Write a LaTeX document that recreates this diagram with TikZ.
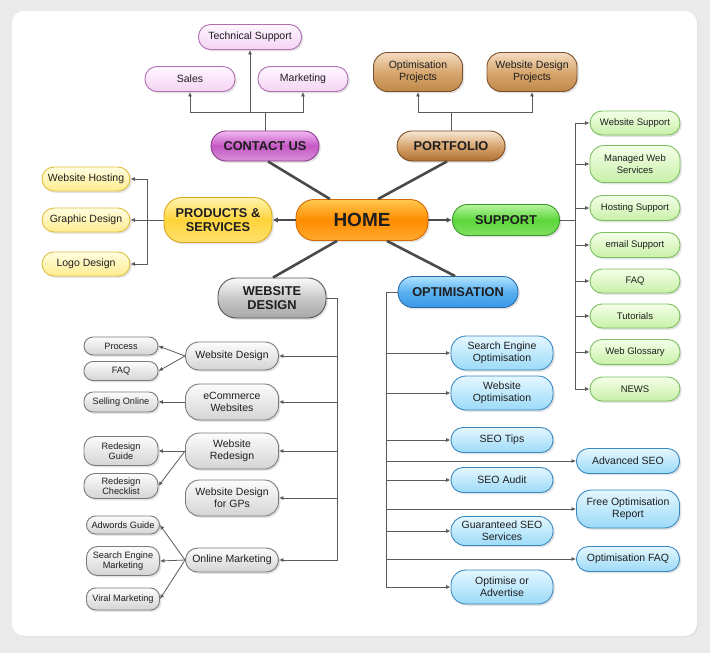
\documentclass[tikz,border=0pt]{standalone}
\usepackage{fontspec}
\setmainfont{Liberation Sans}
\usetikzlibrary{shadows,arrows.meta,calc}
\definecolor{bgc}{HTML}{EAEAEA}
\definecolor{txt}{HTML}{1E1E1E}
\definecolor{linec}{HTML}{5A5A5A}
\definecolor{hubc}{HTML}{4A4A4A}
\begin{document}
\begin{tikzpicture}[x=1pt,y=-1pt,
  base/.style={draw, rectangle, inner sep=1pt, align=center, text=txt, line width=0.9pt,
    drop shadow={opacity=0.22, shadow xshift=1.8pt, shadow yshift=-1.8pt}},
  mainnode/.style={base, font=\fontsize{12.8}{14}\selectfont\bfseries, rounded corners=15},
  kidnode/.style={base, font=\fontsize{10.5}{12}\selectfont, rounded corners=12},
  grnnode/.style={base, font=\fontsize{9.5}{11.5}\selectfont, rounded corners=12},
  gknode/.style={base, font=\fontsize{9.2}{10.5}\selectfont, rounded corners=9},
  sz/.style 2 args={minimum width=#1, minimum height=#2},
  homec/.style={top color={rgb,255:red,255;green,200;blue,80}, bottom color={rgb,255:red,255;green,170;blue,48}, middle color={rgb,255:red,255;green,140;blue,0}, draw={rgb,255:red,214;green,106;blue,0}},
  suppc/.style={top color={rgb,255:red,184;green,245;blue,160}, bottom color={rgb,255:red,128;green,224;blue,96}, middle color={rgb,255:red,92;green,214;blue,60}, draw={rgb,255:red,58;green,154;blue,40}},
  prodc/.style={top color={rgb,255:red,255;green,245;blue,176}, bottom color={rgb,255:red,255;green,224;blue,112}, middle color={rgb,255:red,255;green,212;blue,58}, draw={rgb,255:red,217;green,165;blue,32}},
  contc/.style={top color={rgb,255:red,242;green,184;blue,242}, bottom color={rgb,255:red,216;green,144;blue,216}, middle color={rgb,255:red,196;green,88;blue,196}, draw={rgb,255:red,138;green,58;blue,138}},
  portc/.style={top color={rgb,255:red,248;green,232;blue,212}, bottom color={rgb,255:red,176;green,112;blue,48}, middle color={rgb,255:red,216;green,166;blue,112}, draw={rgb,255:red,122;green,74;blue,32}},
  wdc/.style={top color={rgb,255:red,250;green,250;blue,250}, bottom color={rgb,255:red,168;green,168;blue,168}, middle color={rgb,255:red,200;green,200;blue,200}, draw={rgb,255:red,85;green,85;blue,85}},
  optc/.style={top color={rgb,255:red,176;green,228;blue,255}, bottom color={rgb,255:red,58;green,152;blue,232}, middle color={rgb,255:red,88;green,176;blue,240}, draw={rgb,255:red,42;green,106;blue,170}},
  pinkk/.style={top color={rgb,255:red,255;green,246;blue,255}, bottom color={rgb,255:red,244;green,212;blue,244}, draw={rgb,255:red,176;green,112;blue,176}},
  tank/.style={top color={rgb,255:red,244;green,220;blue,192}, bottom color={rgb,255:red,192;green,136;blue,72}, middle color={rgb,255:red,216;green,168;blue,112}, draw={rgb,255:red,122;green,80;blue,48}},
  yelk/.style={top color={rgb,255:red,255;green,253;blue,224}, bottom color={rgb,255:red,255;green,236;blue,144}, draw={rgb,255:red,224;green,192;blue,64}},
  grnk/.style={top color={rgb,255:red,244;green,255;blue,232}, bottom color={rgb,255:red,200;green,240;blue,168}, draw={rgb,255:red,124;green,192;blue,96}},
  gryk/.style={top color={rgb,255:red,252;green,252;blue,252}, bottom color={rgb,255:red,212;green,212;blue,212}, draw={rgb,255:red,122;green,122;blue,122}},
  bluk/.style={top color={rgb,255:red,228;green,247;blue,255}, bottom color={rgb,255:red,156;green,218;blue,248}, draw={rgb,255:red,58;green,136;blue,192}},
  conn/.style={draw=linec, line width=0.8pt},
  arr/.style={conn, -{Latex[length=4.5pt,width=4pt]}},
  hub/.style={draw=hubc, line width=2.6pt},
  hubarr/.style={draw=hubc, line width=1.8pt, -{Latex[length=5.5pt,width=5.5pt]}}
]
\useasboundingbox (0,0) rectangle (710,653);
\fill[bgc] (0,0) rectangle (710,653);
\fill[white, rounded corners=12, drop shadow={opacity=0.12, shadow xshift=1pt, shadow yshift=-1pt}] (12,11) rectangle (697,636);

% main nodes
\node[mainnode, homec, sz={132}{41}, rounded corners=18, font=\fontsize{19}{21}\selectfont\bfseries] (home) at (362,220) {HOME};
\node[mainnode, suppc, sz={107}{31}] (support) at (506,220) {SUPPORT};
\node[mainnode, prodc, sz={108}{45}, rounded corners=18] (products) at (218,220) {PRODUCTS \&\\SERVICES};
\node[mainnode, contc, sz={108}{30}] (contact) at (265,146) {CONTACT US};
\node[mainnode, portc, sz={108}{30}] (portfolio) at (451,146) {PORTFOLIO};
\node[mainnode, wdc, sz={108}{40}, rounded corners=18] (wdesign) at (272,298) {WEBSITE\\DESIGN};
\node[mainnode, optc, sz={120}{31}] (optim) at (458,292) {OPTIMISATION};

% contact kids
\node[kidnode, pinkk, sz={103}{25}] (techsup) at (250,37) {Technical Support};
\node[kidnode, pinkk, sz={90}{25}] (sales) at (190,79) {Sales};
\node[kidnode, pinkk, sz={90}{25}] (marketing) at (303,79) {Marketing};
% portfolio kids
\node[kidnode, tank, sz={89}{39}, rounded corners=14] (optproj) at (418,72) {Optimisation\\Projects};
\node[kidnode, tank, sz={90}{39}, rounded corners=14] (wdproj) at (532,72) {Website Design\\Projects};
% products kids
\node[kidnode, yelk, sz={88}{24}] (whost) at (86,179) {Website Hosting};
\node[kidnode, yelk, sz={88}{24}] (gdesign) at (86,220) {Graphic Design};
\node[kidnode, yelk, sz={88}{24}] (ldesign) at (86,264) {Logo Design};
% support kids
\node[grnnode, grnk, sz={90}{24}] (wsup) at (635,123) {Website Support};
\node[grnnode, grnk, sz={90}{37}, rounded corners=14] (mws) at (635,164) {Managed Web\\Services};
\node[grnnode, grnk, sz={90}{25}] (hsup) at (635,208) {Hosting Support};
\node[grnnode, grnk, sz={90}{25}] (esup) at (635,245) {email Support};
\node[grnnode, grnk, sz={90}{24}] (sfaq) at (635,281) {FAQ};
\node[grnnode, grnk, sz={90}{24}] (tut) at (635,316) {Tutorials};
\node[grnnode, grnk, sz={90}{25}] (wglos) at (635,352) {Web Glossary};
\node[grnnode, grnk, sz={90}{24}] (news) at (635,389) {NEWS};
% website design kids
\node[kidnode, gryk, sz={93}{28}, rounded corners=13] (wdk) at (232,356) {Website Design};
\node[kidnode, gryk, sz={93}{36}, rounded corners=14] (ecom) at (232,402) {eCommerce\\Websites};
\node[kidnode, gryk, sz={93}{36}, rounded corners=14] (redes) at (232,451) {Website\\Redesign};
\node[kidnode, gryk, sz={93}{36}, rounded corners=14] (gps) at (232,498) {Website Design\\for GPs};
\node[kidnode, gryk, sz={93}{24}] (onm) at (232,560) {Online Marketing};
% grandkids
\node[gknode, gryk, sz={74}{18}] (proc) at (121,346) {Process};
\node[gknode, gryk, sz={74}{19}] (wfaq) at (121,371) {FAQ};
\node[gknode, gryk, sz={74}{20}] (sell) at (121,402) {Selling Online};
\node[gknode, gryk, sz={74}{29}, rounded corners=11] (rguide) at (121,451) {Redesign\\Guide};
\node[gknode, gryk, sz={74}{25}, rounded corners=11] (rcheck) at (121,486) {Redesign\\Checklist};
\node[gknode, gryk, sz={73}{18}] (adw) at (123,525) {Adwords Guide};
\node[gknode, gryk, sz={73}{29}, rounded corners=11] (sem) at (123,561) {Search Engine\\Marketing};
\node[gknode, gryk, sz={73}{22}] (viral) at (123,599) {Viral Marketing};
% optimisation kids
\node[kidnode, bluk, sz={102}{34}, rounded corners=15] (seo) at (502,353) {Search Engine\\Optimisation};
\node[kidnode, bluk, sz={102}{34}, rounded corners=15] (wopt) at (502,393) {Website\\Optimisation};
\node[kidnode, bluk, sz={102}{25}] (tips) at (502,440) {SEO Tips};
\node[kidnode, bluk, sz={102}{25}] (audit) at (502,480) {SEO Audit};
\node[kidnode, bluk, sz={102}{29}, rounded corners=14] (guar) at (502,531) {Guaranteed SEO\\Services};
\node[kidnode, bluk, sz={102}{34}, rounded corners=15] (oadv) at (502,587) {Optimise or\\Advertise};
\node[kidnode, bluk, sz={103}{25}] (adv) at (628,461) {Advanced SEO};
\node[kidnode, bluk, sz={103}{38}, rounded corners=15] (free) at (628,509) {Free Optimisation\\Report};
\node[kidnode, bluk, sz={103}{25}] (ofaq) at (628,559) {Optimisation FAQ};

% hub connectors
\draw[hub] ([xshift=-32]home.north) -- ([xshift=3]contact.south);
\draw[hub] ([xshift=16]home.north) -- ([xshift=-4]portfolio.south);
\draw[hub] ([xshift=-25]home.south) -- ([xshift=1]wdesign.north);
\draw[hub] ([xshift=25]home.south) -- ([xshift=-3]optim.north);
\draw[hubarr] (home.west) -- (products.east);
\draw[hubarr] (home.east) -- (support.west);

% contact
\coordinate (cb) at (265,112);
\draw[conn] (contact.north) -- (cb);
\draw[arr] (cb) -| (sales.south);
\draw[arr] (cb) -| (marketing.south);
\draw[arr] (techsup.south |- cb) -- (techsup.south);
% portfolio
\coordinate (pb) at (451,112);
\draw[conn] (portfolio.north) -- (pb);
\draw[arr] (pb) -| (optproj.south);
\draw[arr] (pb) -| (wdproj.south);
% products
\coordinate (pv) at (147,220);
\draw[arr] (products.west) -- (gdesign.east);
\draw[arr] (pv) |- (whost.east);
\draw[arr] (pv) |- (ldesign.east);
% support
\coordinate (sv) at (575,220);
\draw[conn] (support.east) -- (sv);
\foreach \n in {wsup,mws,hsup,esup,sfaq,tut,wglos,news}
  \draw[arr] (sv) |- (\n.west);
% website design
\coordinate (wv) at (337,298);
\draw[conn] (wdesign.east) -- (wv);
\foreach \n in {wdk,ecom,redes,gps,onm}
  \draw[arr] (wv) |- (\n.east);
\draw[arr] (wdk.west) -- (proc.east);
\draw[arr] (wdk.west) -- (wfaq.east);
\draw[arr] (ecom.west) -- (sell.east);
\draw[arr] (redes.west) -- (rguide.east);
\draw[arr] (redes.west) -- (rcheck.east);
\draw[arr] (onm.west) -- (adw.east);
\draw[arr] (onm.west) -- (sem.east);
\draw[arr] (onm.west) -- (viral.east);
% optimisation
\coordinate (ov) at (386,292);
\draw[conn] (optim.west) -- (ov);
\foreach \n in {seo,wopt,tips,audit,guar,oadv,adv,free,ofaq}
  \draw[arr] (ov) |- (\n.west);
\end{tikzpicture}
\end{document}
